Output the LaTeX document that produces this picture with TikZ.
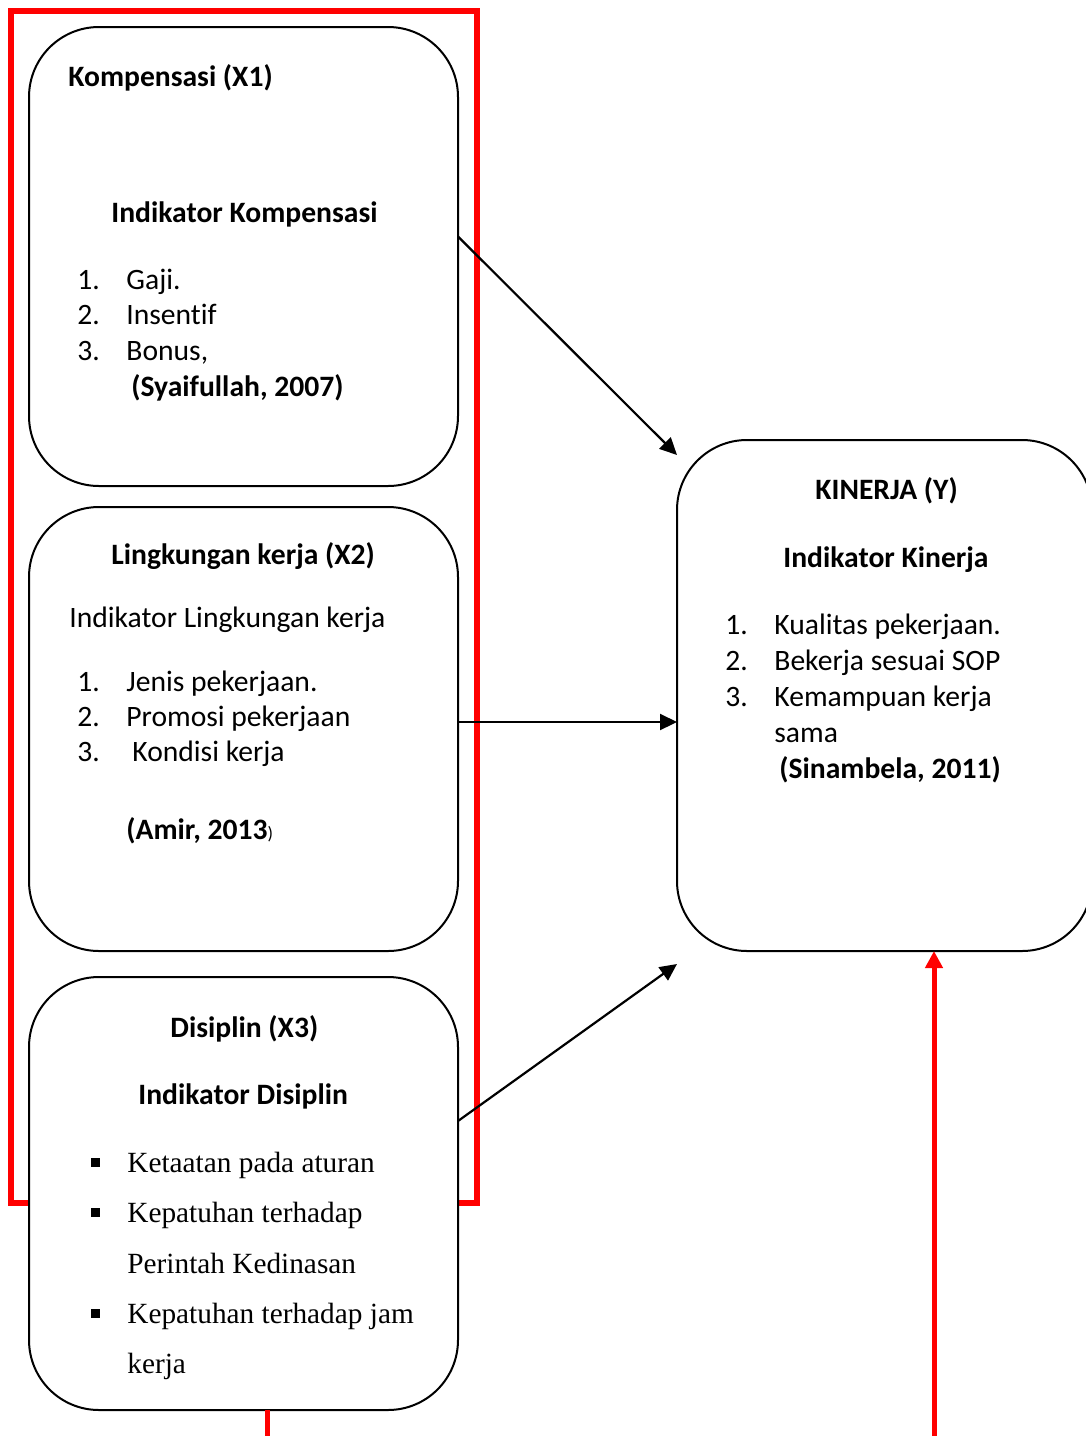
\documentclass[tikz,border=0pt]{standalone}
\usepackage{fontspec}
\setmainfont{Liberation Serif}
\newfontfamily\calib[Ligatures={NoCommon}]{Carlito}
\usetikzlibrary{arrows.meta}
\begin{document}
\begin{tikzpicture}[x=0.5pt,y=-0.5pt,
  box/.style={draw=black, line width=1pt, fill=white, rounded corners=35pt, inner sep=0pt, outer sep=0pt},
  tr/.style={anchor=base west, inner sep=0pt, font=\calib\fontsize{14.8}{18}\selectfont},
  tb/.style={anchor=base west, inner sep=0pt, font=\calib\bfseries\fontsize{14.8}{18}\selectfont},
  ts/.style={anchor=base west, inner sep=0pt, font=\fontsize{14.65}{17.9}\selectfont},
  bul/.style={fill=black, inner sep=0pt, minimum size=4.5pt},
  arr/.style={line width=1.1pt, -{Triangle[length=8.5pt,width=8pt]}},
  redarr/.style={draw=red, line width=2.5pt, -{Triangle[length=8.5pt,width=8.5pt]}},
  redline/.style={draw=red, line width=2.5pt},
  redframe/.style={draw=red, line width=3pt}]
\useasboundingbox (0,0) rectangle (1086,1436);
\clip (0,0) rectangle (1086,1436);
% red frame
\draw[redframe] (11,11) rectangle (477,1203);
% boxes
\node[box, minimum width=214.5pt, minimum height=229.5pt] (x1) at (243.5,256.5) {};
\node[box, minimum width=214.5pt, minimum height=222pt] (x2) at (243.5,729) {};
\node[box, minimum width=214.5pt, minimum height=216.5pt] (x3) at (243.5,1193.5) {};
\node[box, minimum width=207.5pt, minimum height=255.5pt] (y) at (884.5,695.5) {};
% X1 text
\node[tb] (k1) at (68,86) {Kompensasi (X1)};
\node[tb] (k2) at (111,222) {Indikator Kompensasi};
\node[tr] (k3n) at (77,289) {1.};
\node[tr] (k3) at (126,289) {Gaji.};
\node[tr] (k4n) at (77,324) {2.};
\node[tr] (k4) at (126,324) {Insentif};
\node[tr] (k5n) at (77,360) {3.};
\node[tr] (k5) at (126,360) {Bonus,};
\node[tb] (k6) at (131,396) {(Syaifullah, 2007)};
% X2 text
\node[tb] (l1) at (111,564) {Lingkungan kerja (X2)};
\node[tr] (l2) at (69,627) {Indikator Lingkungan kerja};
\node[tr] (l3n) at (77,691) {1.};
\node[tr] (l3) at (126,691) {Jenis pekerjaan.};
\node[tr] (l4n) at (77,726) {2.};
\node[tr] (l4) at (126,726) {Promosi pekerjaan};
\node[tr] (l5n) at (77,761) {3.};
\node[tr] (l5) at (132,761) {Kondisi kerja};
\node[tb] (l6) at (126,839) {(Amir, 2013{\mdseries\fontsize{9}{11}\selectfont)}};
% X3 text
\node[tb] (d1) at (170,1037) {Disiplin (X3)};
\node[tb] (d2) at (138,1104) {Indikator Disiplin};
\node[bul] (b1) at (95.5,1162) {};
\node[bul] (b2) at (95.5,1212) {};
\node[bul] (b3) at (95.5,1313) {};
\node[ts] (d3) at (127,1172) {Ketaatan pada aturan};
\node[ts] (d4) at (127,1222) {Kepatuhan terhadap};
\node[ts] (d5) at (127,1273) {Perintah Kedinasan};
\node[ts] (d6) at (127,1323) {Kepatuhan terhadap jam};
\node[ts] (d7) at (127,1373) {kerja};
% Y text
\node[tb] (y1) at (815,499) {KINERJA (Y)};
\node[tb] (y2) at (783,567) {Indikator Kinerja};
\node[tr] (y3n) at (725,634) {1.};
\node[tr] (y3) at (774,634) {Kualitas pekerjaan.};
\node[tr] (y4n) at (725,670) {2.};
\node[tr] (y4) at (774,670) {Bekerja sesuai SOP};
\node[tr] (y5n) at (725,706) {3.};
\node[tr] (y5) at (774,706) {Kemampuan kerja};
\node[tr] (y6) at (774,742) {sama};
\node[tb] (y7) at (779,778) {(Sinambela, 2011)};
% connectors
\draw[arr] ([yshift=10pt]x1.east) -- ([yshift=-7.5pt]y.north west);
\draw[arr] ([yshift=3.5pt]x2.east) coordinate (a2) -- (a2 -| y.west);
\draw[arr] ([yshift=36.25pt]x3.east) -- ([yshift=-6.5pt]y.south west);
\coordinate (rb) at (934,1436);
\draw[redarr] (rb) -- (rb |- y.south);
\coordinate (rb2) at (267,1436);
\draw[redline] (rb2 |- x3.south) -- (rb2);
\end{tikzpicture}
\end{document}
